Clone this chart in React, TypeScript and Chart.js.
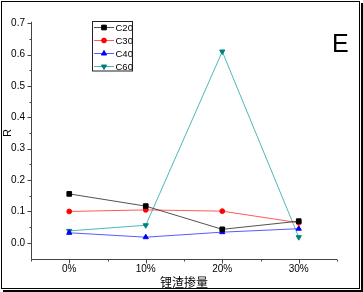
import React, { useEffect, useRef } from 'react';
import { Chart, registerables } from 'chart.js';
import { drawPoint } from 'chart.js/helpers';

Chart.register(...registerables);

const categories = ['0%', '10%', '20%', '30%'];
const seriesNames = ['C20', 'C30', 'C40', 'C60'];
const c20 = [0.156, 0.117, 0.043, 0.069];
const c30 = [0.100, 0.105, 0.101, 0.064];
const c40 = [0.032, 0.018, 0.034, 0.045];
const c60 = [0.038, 0.056, 0.610, 0.018];
const yMajorTicks = [0, 0.1, 0.2, 0.3, 0.4, 0.5, 0.6, 0.7];
const yMinorTicks = [0.05, 0.15, 0.25, 0.35, 0.45, 0.55, 0.65];
const xTitle = '锂渣掺量';
const yTitle = 'R';
const panelLabel = 'E';

const FONT = '"Liberation Sans", Arial, sans-serif';

const overlay = {
  id: 'overlay',
  afterDraw(chart: any) {
    const ctx = chart.ctx;
    const area = chart.chartArea;
    const xs = chart.scales.x;
    const ys = chart.scales.y;
    ctx.save();
    // outer frame
    ctx.strokeStyle = '#000';
    ctx.lineWidth = 1;
    ctx.strokeRect(1.5, 1.5, 358, 287);
    ctx.fillStyle = '#000';
    ctx.fillRect(361, 3, 2, 289);
    ctx.fillRect(3, 290, 360, 2);

    // axes
    const ax = Math.round(area.left) + 0.5;
    const ay = Math.round(area.bottom) + 0.5;
    ctx.strokeStyle = '#444';
    ctx.beginPath();
    ctx.moveTo(ax, area.top - 1.5);
    ctx.lineTo(ax, ay);
    ctx.lineTo(area.right, ay);
    ctx.stroke();
    ctx.beginPath();
    yMajorTicks.forEach((v) => {
      const y = Math.round(ys.getPixelForValue(v)) + 0.5;
      ctx.moveTo(ax - 4, y);
      ctx.lineTo(ax, y);
    });
    yMinorTicks.forEach((v) => {
      const y = Math.round(ys.getPixelForValue(v)) + 0.5;
      ctx.moveTo(ax - 2, y);
      ctx.lineTo(ax, y);
    });
    categories.forEach((_, i) => {
      const x = Math.round(xs.getPixelForValue(i)) + 0.5;
      ctx.moveTo(x, ay);
      ctx.lineTo(x, ay + 4);
    });
    const step = xs.getPixelForValue(1) - xs.getPixelForValue(0);
    for (let i = 0; i <= categories.length; i++) {
      const x = Math.round(xs.getPixelForValue(0) - step / 2 + i * step) + 0.5;
      ctx.moveTo(x, ay);
      ctx.lineTo(x, ay + 2);
    }
    ctx.stroke();

    // axis titles
    ctx.fillStyle = '#000';
    ctx.font = '11px ' + FONT;
    ctx.textAlign = 'center';
    ctx.textBaseline = 'middle';
    ctx.save();
    ctx.translate(7.5, 133);
    ctx.rotate(-Math.PI / 2);
    ctx.fillText(yTitle, 0, 0);
    ctx.restore();
    ctx.font = '12px "Noto Sans CJK SC", sans-serif';
    ctx.fillText(xTitle, (area.left + area.right) / 2, 282.5);

    // panel label
    ctx.font = '25px ' + FONT;
    ctx.textAlign = 'left';
    ctx.textBaseline = 'alphabetic';
    ctx.fillText(panelLabel, 332, 52);

    // legend
    ctx.strokeStyle = '#222';
    ctx.lineWidth = 1;
    ctx.strokeRect(92.5, 21.5, 40, 49.5);
    chart.data.datasets.forEach((ds: any, i: number) => {
      const y = 27.5 + i * 13;
      ctx.strokeStyle = ds.borderColor;
      ctx.lineWidth = 1;
      ctx.beginPath();
      ctx.moveTo(94, y);
      ctx.lineTo(114, y);
      ctx.stroke();
      ctx.fillStyle = ds.pointBackgroundColor;
      ctx.strokeStyle = ds.pointBorderColor;
      drawPoint(ctx, { pointStyle: ds.pointStyle, rotation: ds.pointRotation || 0, radius: ds.pointRadius, borderWidth: 1 }, 104, y);
      ctx.fillStyle = '#000';
      ctx.font = '9.5px ' + FONT;
      ctx.textAlign = 'left';
      ctx.textBaseline = 'middle';
      ctx.fillText(ds.label, 115.5, y + 0.5);
    });
    ctx.restore();
  },
};

export default function App() {
  const ref = useRef<HTMLCanvasElement | null>(null);
  useEffect(() => {
    document.body.style.margin = '0';
    const canvas = ref.current!;
    const mk = (label: string, data: number[], line: string, mark: string, style: string, r: number, rot = 0) => ({
      label,
      data,
      borderColor: line,
      borderWidth: 1,
      pointBackgroundColor: mark,
      pointBorderColor: mark,
      pointBorderWidth: 1,
      pointStyle: style,
      pointRadius: r,
      pointRotation: rot,
      tension: 0,
      fill: false,
    });
    const chart = new Chart(canvas, {
      type: 'line',
      data: {
        labels: categories,
        datasets: [
          mk(seriesNames[0], c20, 'rgba(40,40,40,0.8)', '#000000', 'rect', 3.3),
          mk(seriesNames[1], c30, 'rgba(255,60,60,0.85)', '#ff0000', 'circle', 2.4),
          mk(seriesNames[2], c40, 'rgba(60,60,255,0.85)', '#0000ff', 'triangle', 3),
          mk(seriesNames[3], c60, 'rgba(60,175,175,0.9)', '#007f7f', 'triangle', 3, 180),
        ],
      },
      options: {
        animation: false,
        responsive: false,
        events: [],
        layout: { padding: { top: 23.3, right: 26, left: 0, bottom: 0 } },
        plugins: { legend: { display: false }, tooltip: { enabled: false } },
        scales: {
          x: {
            type: 'category',
            offset: true,
            grid: { display: false, drawTicks: false },
            border: { display: false },
            ticks: { color: '#000', padding: 5, font: { family: FONT, size: 10 } },
            afterFit: (s: any) => { s.height = 33.5; },
          },
          y: {
            type: 'linear',
            min: -0.05,
            max: 0.7,
            grid: { display: false, drawTicks: false },
            border: { display: false },
            ticks: {
              stepSize: 0.1,
              color: '#000',
              padding: 6,
              font: { family: FONT, size: 10 },
              callback: (v: any) => (Number(v) < -0.001 ? '' : Number(v).toFixed(1)),
            },
            afterFit: (s: any) => { s.width = 31; },
          },
        },
      },
      plugins: [overlay],
    } as any);
    return () => chart.destroy();
  }, []);
  return <canvas ref={ref} width={363} height={292} style={{ display: 'block' }} />;
}
